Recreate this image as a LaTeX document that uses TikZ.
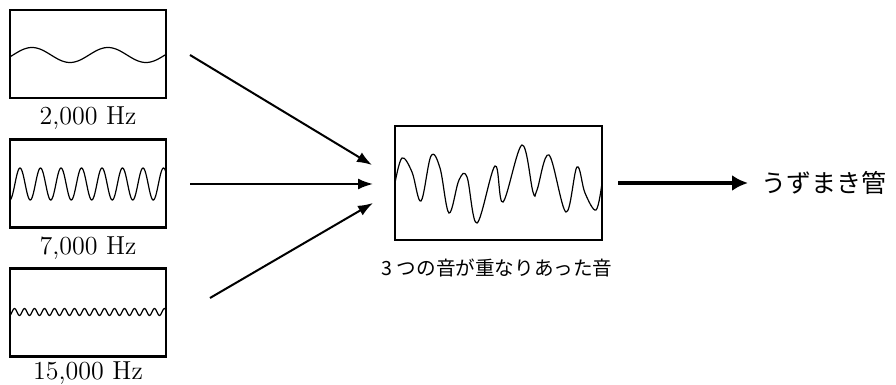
\documentclass[tikz,border=0pt]{standalone}
\usepackage{fontspec}
\newfontfamily\jpfont{Noto Sans CJK JP}
\usetikzlibrary{arrows.meta}

\begin{document}
\begin{tikzpicture}[x=0.5pt,y=-0.5pt,>={Latex[length=7.5pt,width=5.5pt]}]
    \tikzset{
        scopebox/.style={
            draw,
            line width=1.1pt,
            minimum width=78pt,
            minimum height=44pt,
            inner sep=0pt
        },
        mixbox/.style={scopebox,minimum width=103.5pt,minimum height=57pt},
        freq/.style={font=\fontsize{13}{15}\selectfont},
        wave/.style={line width=0.6pt,smooth},
        feed/.style={->,line width=1pt}
    }
    \useasboundingbox (0,0) rectangle (896,385);

    % input sounds
    \node[scopebox] (sig2k) at (88,54) {};
    \node[scopebox] (sig7k) at (88,183.5) {};
    \node[scopebox] (sig15k) at (88,312.5) {};
    \node[freq] (lab2k) at (88,118) {2,000 Hz};
    \node[freq] (lab7k) at (88,248) {7,000 Hz};
    \node[freq] (lab15k) at (88,373) {15,000 Hz};

    \draw[wave,domain=10:166,samples=120]
        plot (\x,{55-7.5*sin((\x-13)/76*360)});
    \draw[wave,domain=10:166,samples=240]
        plot (\x,{184-16*sin((\x-14.9)/20.5*360)});
    \draw[wave,domain=10:166,samples=400]
        plot (\x,{312-3.5*sin((\x-12)/10*360)});

    % mixed sound
    \node[mixbox] (mix) at (498.5,183) {};
    \node[font=\jpfont\fontsize{9.8}{11}\selectfont] (mixlab) at (497,268)
        {3 つの音が重なりあった音};
    \draw[wave,tension=0.6] plot coordinates {(395,183) (402,158) (412,172)
        (421,201) (431,156) (440,168) (449,213) (459,180) (467,177)
        (477,223) (495,166) (503,202) (522,145) (533,192) (537,190)
        (549,155) (566,212) (577,167) (585,193) (596,210) (602,183)};

    \coordinate (from2k) at (190,55);
    \coordinate (to2k) at (372,165);
    \coordinate (from7k) at (190,184);
    \coordinate (to7k) at (373,184);
    \coordinate (from15k) at (210,298);
    \coordinate (to15k) at (373,203);
    \draw[feed] (from2k) -- (to2k);
    \draw[feed] (from7k) -- (to7k);
    \draw[feed] (from15k) -- (to15k);

    % to the cochlea
    \node[anchor=west,font=\jpfont\fontsize{12.5}{14}\selectfont] (cochlea)
        at (754,183) {うずまき管};
    \coordinate (out) at (618,183);
    \draw[-{Latex[length=8pt,width=8pt]},line width=2pt,shorten >=3pt]
        (out) -- (cochlea.west);
\end{tikzpicture}
\end{document}
